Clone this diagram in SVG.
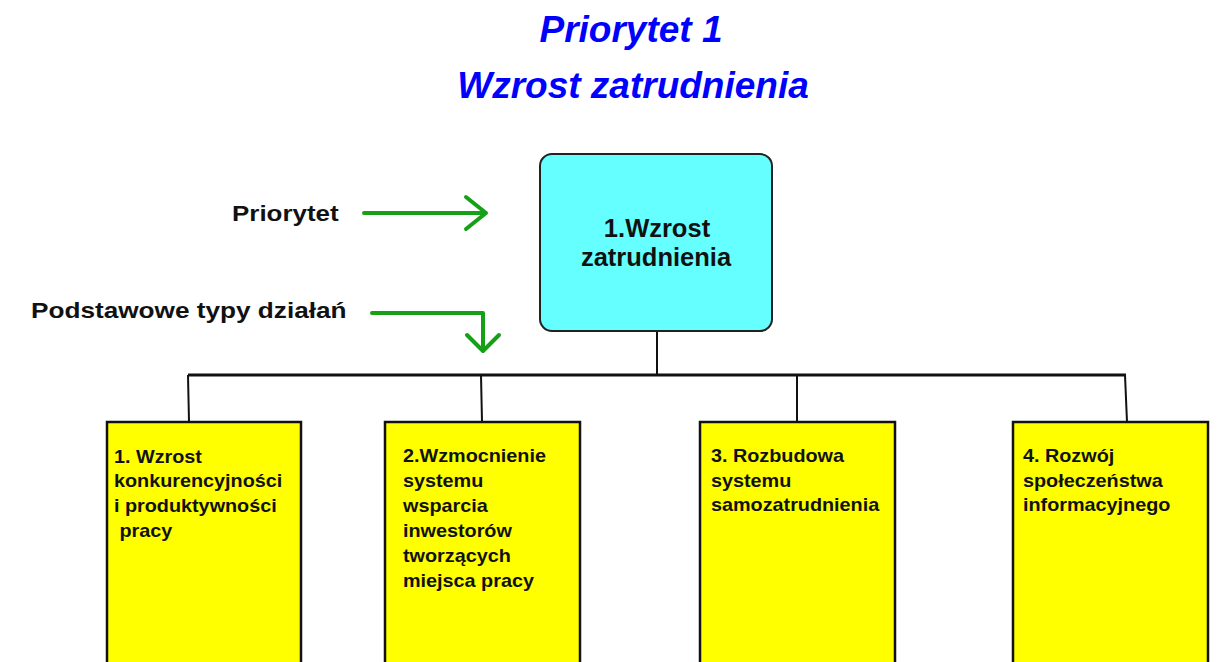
<svg xmlns="http://www.w3.org/2000/svg" width="1227" height="662" viewBox="0 0 1227 662">
  <style>
    .title { font-family: "Liberation Sans", Arial, sans-serif; font-weight: bold; font-style: italic; font-size: 37px; fill: #0000ff; text-anchor: middle; }
    .label { font-family: "Liberation Sans", Arial, sans-serif; font-weight: bold; font-size: 22px; fill: #111; }
    .head { font-family: "Liberation Sans", Arial, sans-serif; font-weight: bold; font-size: 25.5px; fill: #111; text-anchor: middle; }
    .item { font-family: "Liberation Sans", Arial, sans-serif; font-weight: bold; font-size: 18px; fill: #111; }
    .box { fill: #ffff00; stroke: #111; stroke-width: 2.5; }
    .root { fill: #66ffff; stroke: #222; stroke-width: 2; }
    .wire { fill: none; stroke: #111; stroke-width: 2; }
    .bus { fill: none; stroke: #111; stroke-width: 3; }
    .pointer { fill: none; stroke: #16a016; stroke-width: 4; stroke-linecap: round; stroke-linejoin: round; }
  </style>

  <!-- heading -->
  <g id="title">
    <text class="title" x="631" y="42">Priorytet 1</text>
    <text class="title" x="633" y="98">Wzrost zatrudnienia</text>
  </g>

  <!-- side labels with green pointers -->
  <g id="label-priorytet">
    <text class="label" transform="translate(232 221) scale(1.18 1)" x="0" y="0">Priorytet</text>
    <path class="pointer" d="M364 213 H486 M466 197 L486 213 L466 229"/>
  </g>
  <g id="label-typy">
    <text class="label" transform="translate(31 318) scale(1.19 1)" x="0" y="0">Podstawowe typy działań</text>
    <path class="pointer" d="M372 313 H483 V351 M467 335 L483 351 L499 335"/>
  </g>

  <!-- tree connectors -->
  <g id="connectors">
    <path class="wire" d="M657 331 V375"/>
    <path class="bus" d="M188 375 H1126"/>
    <path class="wire" d="M188 375 L189 422"/>
    <path class="wire" d="M481 375 L482 422"/>
    <path class="wire" d="M797 375 V422"/>
    <path class="wire" d="M1125 375 L1127 422"/>
  </g>

  <!-- priority -->
  <g id="root">
    <rect class="root" x="540" y="154" width="232" height="177" rx="12" ry="12"/>
    <text class="head" x="657" y="237">1.Wzrost</text>
    <text class="head" x="656" y="266">zatrudnienia</text>
  </g>

  <!-- action types -->
  <g id="action-1">
    <rect class="box" x="107" y="422" width="194" height="260"/>
    <text class="item" transform="translate(114 0) scale(1.1 1)">
      <tspan x="0" y="463">1. Wzrost</tspan>
      <tspan x="0" y="487">konkurencyjności</tspan>
      <tspan x="0" y="512">i produktywności</tspan>
      <tspan x="0" y="537" xml:space="preserve"> pracy</tspan>
    </text>
  </g>
  <g id="action-2">
    <rect class="box" x="385" y="422" width="195" height="260"/>
    <text class="item" transform="translate(403 0) scale(1.1 1)">
      <tspan x="0" y="462">2.Wzmocnienie</tspan>
      <tspan x="0" y="487">systemu</tspan>
      <tspan x="0" y="512">wsparcia</tspan>
      <tspan x="0" y="537">inwestorów</tspan>
      <tspan x="0" y="562">tworzących</tspan>
      <tspan x="0" y="587">miejsca pracy</tspan>
    </text>
  </g>
  <g id="action-3">
    <rect class="box" x="700" y="422" width="195" height="260"/>
    <text class="item" transform="translate(711 0) scale(1.1 1)">
      <tspan x="0" y="462">3. Rozbudowa</tspan>
      <tspan x="0" y="487">systemu</tspan>
      <tspan x="0" y="511">samozatrudnienia</tspan>
    </text>
  </g>
  <g id="action-4">
    <rect class="box" x="1013" y="422" width="195" height="260"/>
    <text class="item" transform="translate(1023 0) scale(1.1 1)">
      <tspan x="0" y="462">4. Rozwój</tspan>
      <tspan x="0" y="487">społeczeństwa</tspan>
      <tspan x="0" y="511">informacyjnego</tspan>
    </text>
  </g>
</svg>
